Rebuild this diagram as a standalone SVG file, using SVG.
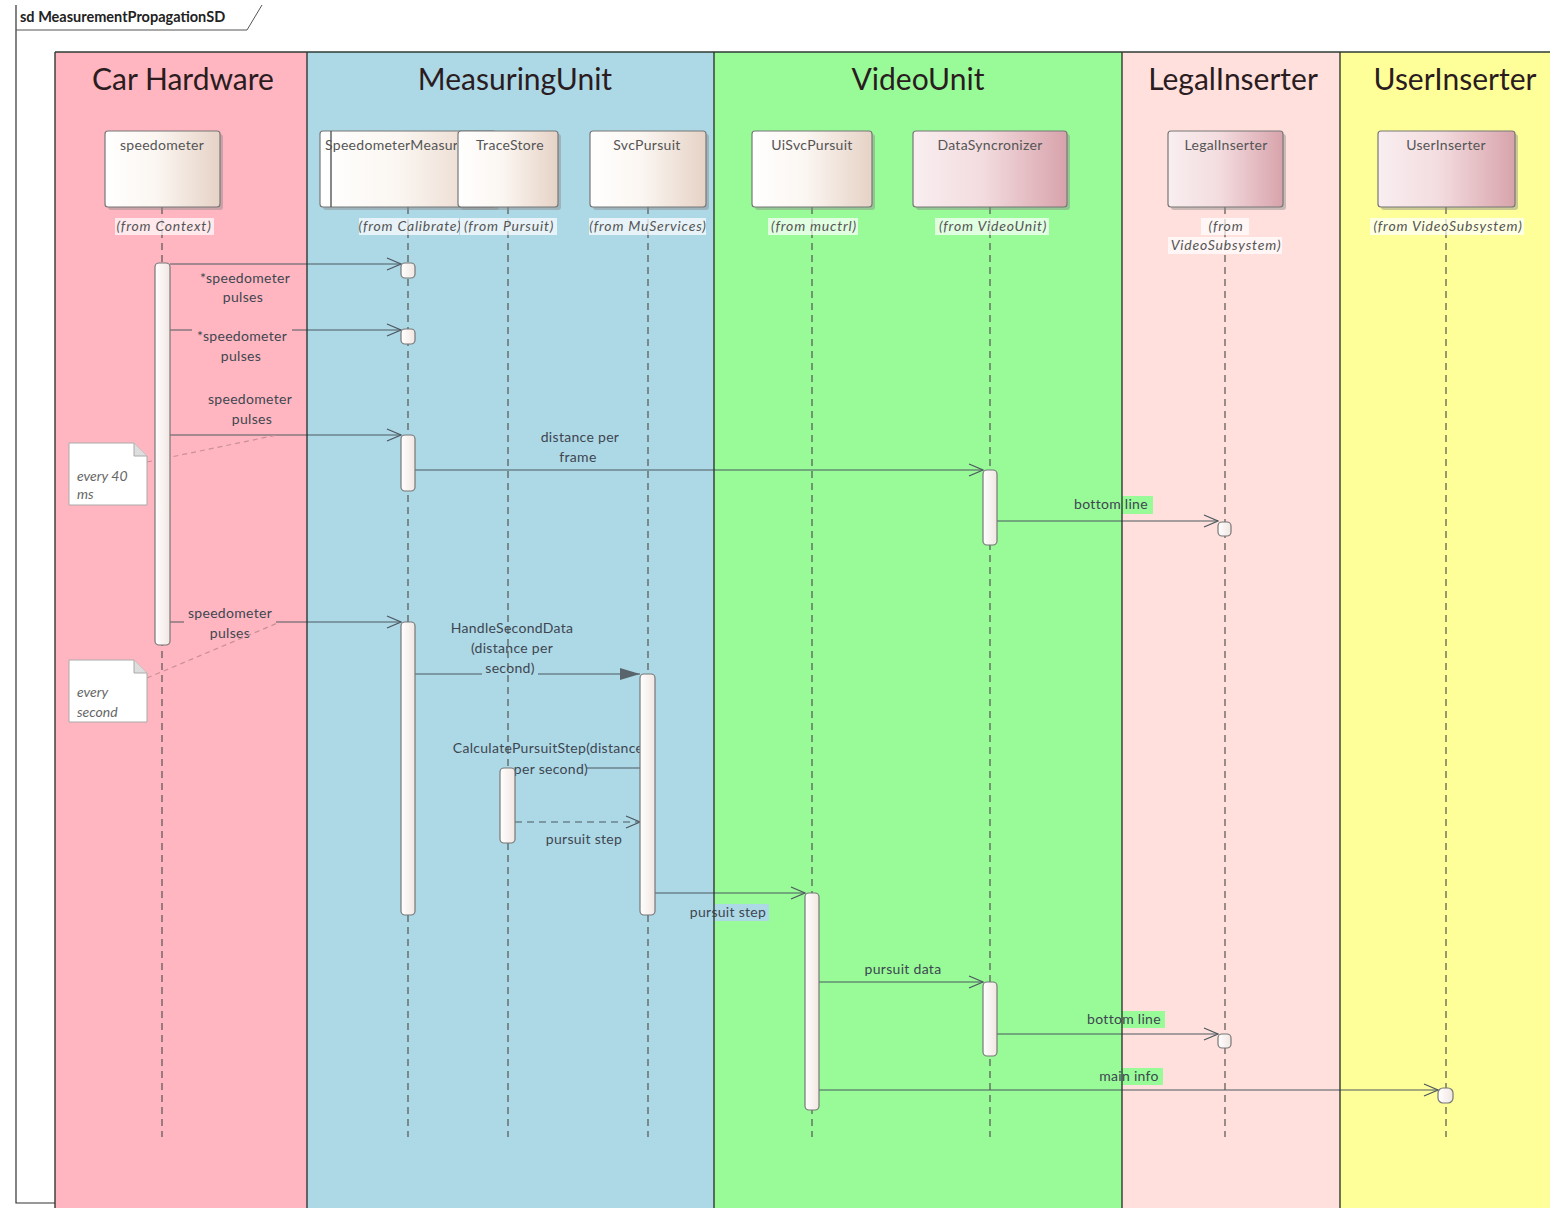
<svg xmlns="http://www.w3.org/2000/svg" width="1550" height="1208" viewBox="0 0 1550 1208">
  <style>
    .lane-title { font-family: Lato, "Liberation Sans", sans-serif; font-size: 30px; fill: #2a1c20; text-anchor: middle; }
    .head-name { font-family: Lato, "Liberation Sans", sans-serif; font-size: 14px; letter-spacing: 0.3px; fill: #555; text-anchor: middle; }
    .from { font-family: Lato, "Liberation Sans", sans-serif; font-size: 14px; letter-spacing: 0.8px; font-style: italic; fill: #555; text-anchor: middle; }
    .msg { font-family: Lato, "Liberation Sans", sans-serif; font-size: 14px; letter-spacing: 0.3px; fill: #3e4650; text-anchor: middle; }
    .note-text { font-family: Lato, "Liberation Sans", sans-serif; font-size: 14px; font-style: italic; fill: #666; }
    .frame-title { font-family: Lato, "Liberation Sans", sans-serif; font-size: 14.5px; font-weight: bold; fill: #222; }
    .lifeline { stroke: #555; stroke-width: 1.2; stroke-dasharray: 7 5; fill: none; }
    .line { stroke: #4d5860; stroke-width: 1.2; fill: none; }
    .ret { stroke: #4d5860; stroke-width: 1.2; fill: none; stroke-dasharray: 7 5; }
    .act { fill: url(#actFill); stroke: #777; stroke-width: 1.2; }
    .head-shadow { fill: #8a8a8a; opacity: 0.45; }
    .head-box { stroke: #777; stroke-width: 1.2; }
    .lane-border { stroke: #2e3a33; stroke-width: 1.4; }
    .note { fill: #fff; stroke: #aaa; stroke-width: 1; }
    .note-link { stroke: #c9909a; stroke-width: 1.2; stroke-dasharray: 5 4; fill: none; }
    .bg-pink { fill: #FFB6C1; }
    .bg-blue { fill: #ADD8E6; }
    .bg-green { fill: #98FB98; }
    .from-bg { fill: #fff; opacity: 0.7; }
  </style>
  <defs>
    <linearGradient id="warm" x1="0" y1="0" x2="1" y2="0">
      <stop offset="0" stop-color="#ffffff"/>
      <stop offset="0.45" stop-color="#fbf6f1"/>
      <stop offset="1" stop-color="#e6d2c6"/>
    </linearGradient>
    <linearGradient id="rose" x1="0" y1="0" x2="1" y2="0">
      <stop offset="0" stop-color="#f9eef0"/>
      <stop offset="0.45" stop-color="#f3dcdf"/>
      <stop offset="1" stop-color="#d8a3ab"/>
    </linearGradient>
    <linearGradient id="actFill" x1="0" y1="0" x2="1" y2="0">
      <stop offset="0" stop-color="#ffffff"/>
      <stop offset="1" stop-color="#f1e6e2"/>
    </linearGradient>
    <marker id="open" viewBox="0 0 16 14" refX="15" refY="7" markerWidth="16" markerHeight="14" markerUnits="userSpaceOnUse" orient="auto">
      <path d="M1,1 L15,7 L1,13" fill="none" stroke="#4d5860" stroke-width="1.3"/>
    </marker>
    <marker id="filled" viewBox="0 0 20 12" refX="20" refY="6" markerWidth="20" markerHeight="12" markerUnits="userSpaceOnUse" orient="auto">
      <path d="M0,0 L20,6 L0,12 Z" fill="#5a646c"/>
    </marker>
    <clipPath id="smClip"><rect x="321" y="131" width="136" height="76"/></clipPath>
  </defs>

  <rect x="0" y="0" width="1550" height="1208" fill="#fff"/>

  <!-- diagram frame with its name tab -->
  <g id="frame">
    <path d="M16,5 L16,1203 L55,1203" fill="none" stroke="#333" stroke-width="1.2"/>
    <path d="M16,30 L247,30 L262,5" fill="none" stroke="#555" stroke-width="1"/>
    <text class="frame-title" x="20" y="22">sd MeasurementPropagationSD</text>
  </g>

  <!-- partition fills -->
  <g id="lanes">
    <rect x="55" y="52" width="252" height="1156" fill="#FFB6C1"/>
    <rect x="307" y="52" width="407" height="1156" fill="#ADD8E6"/>
    <rect x="714" y="52" width="408" height="1156" fill="#98FB98"/>
    <rect x="1122" y="52" width="218" height="1156" fill="#FFE0DC"/>
    <rect x="1340" y="52" width="210" height="1156" fill="#FFFF99"/>
    <text class="lane-title" x="183" y="90">Car Hardware</text>
    <text class="lane-title" x="515" y="90">MeasuringUnit</text>
    <text class="lane-title" x="918" y="90">VideoUnit</text>
    <text class="lane-title" x="1233" y="90">LegalInserter</text>
    <text class="lane-title" x="1455" y="90">UserInserter</text>
  </g>

  <!-- messages -->
  <g id="connectors">
    <line class="line" x1="170" y1="264" x2="401" y2="264" marker-end="url(#open)"/>
    <line class="line" x1="170" y1="330" x2="401" y2="330" marker-end="url(#open)"/>
    <line class="line" x1="170" y1="435" x2="401" y2="435" marker-end="url(#open)"/>
    <line class="line" x1="415" y1="470" x2="983" y2="470" marker-end="url(#open)"/>
    <line class="line" x1="997" y1="521" x2="1218" y2="521" marker-end="url(#open)"/>
    <line class="line" x1="170" y1="622" x2="401" y2="622" marker-end="url(#open)"/>
    <line class="line" x1="415" y1="674" x2="640" y2="674" marker-end="url(#filled)"/>
    <line class="line" x1="640" y1="768" x2="515" y2="768" marker-end="url(#filled)"/>
    <line class="ret" x1="515" y1="822" x2="640" y2="822" marker-end="url(#open)"/>
    <line class="line" x1="655" y1="893" x2="805" y2="893" marker-end="url(#open)"/>
    <line class="line" x1="819" y1="982" x2="983" y2="982" marker-end="url(#open)"/>
    <line class="line" x1="997" y1="1034" x2="1218" y2="1034" marker-end="url(#open)"/>
    <line class="line" x1="819" y1="1090" x2="1438" y2="1090" marker-end="url(#open)"/>

    <!-- label backgrounds -->
    <rect class="bg-pink" x="196" y="270" width="98" height="17"/>
    <rect class="bg-pink" x="221" y="289" width="45" height="17"/>
    <rect class="bg-pink" x="192" y="328" width="100" height="17"/>
    <rect class="bg-pink" x="218" y="348" width="46" height="17"/>
    <rect class="bg-pink" x="205" y="391" width="91" height="17"/>
    <rect class="bg-pink" x="229" y="411" width="46" height="17"/>
    <rect class="bg-blue" x="538" y="429" width="85" height="17"/>
    <rect class="bg-blue" x="557" y="449" width="43" height="17"/>
    <rect class="bg-green" x="1069" y="496" width="84" height="18"/>
    <rect class="bg-pink" x="184" y="605" width="92" height="18"/>
    <rect class="bg-pink" x="207" y="625" width="46" height="17"/>
    <rect class="bg-blue" x="449" y="620" width="127" height="17"/>
    <rect class="bg-blue" x="467" y="640" width="90" height="17"/>
    <rect class="bg-blue" x="482" y="660" width="56" height="18"/>
    <rect class="bg-blue" x="450" y="740" width="197" height="17"/>
    <rect class="bg-blue" x="515" y="761" width="72" height="18"/>
    <rect class="bg-blue" x="543" y="831" width="82" height="17"/>
    <rect class="bg-blue" x="687" y="904" width="82" height="17"/>
    <rect class="bg-green" x="861" y="961" width="84" height="17"/>
    <rect class="bg-green" x="1083" y="1011" width="82" height="17"/>
    <rect class="bg-green" x="1095" y="1068" width="68" height="17"/>

    <!-- label texts -->
    <text class="msg" x="245" y="283">*speedometer</text>
    <text class="msg" x="243" y="302">pulses</text>
    <text class="msg" x="242" y="341">*speedometer</text>
    <text class="msg" x="241" y="361">pulses</text>
    <text class="msg" x="250" y="404">speedometer</text>
    <text class="msg" x="252" y="424">pulses</text>
    <text class="msg" x="580" y="442">distance per</text>
    <text class="msg" x="578" y="462">frame</text>
    <text class="msg" x="1111" y="509">bottom line</text>
    <text class="msg" x="230" y="618">speedometer</text>
    <text class="msg" x="230" y="638">pulses</text>
    <text class="msg" x="512" y="633">HandleSecondData</text>
    <text class="msg" x="512" y="653">(distance per</text>
    <text class="msg" x="510" y="673">second)</text>
    <text class="msg" x="548" y="753">CalculatePursuitStep(distance</text>
    <text class="msg" x="551" y="774">per second)</text>
    <text class="msg" x="584" y="844">pursuit step</text>
    <text class="msg" x="728" y="917">pursuit step</text>
    <text class="msg" x="903" y="974">pursuit data</text>
    <text class="msg" x="1124" y="1024">bottom line</text>
    <text class="msg" x="1129" y="1081">main info</text>

    <!-- note attachments -->
    <line class="note-link" x1="147" y1="462" x2="277" y2="435"/>
    <line class="note-link" x1="147" y1="678" x2="280" y2="622"/>
  </g>

  <!-- partition borders -->
  <g id="lane-borders">
    <line class="lane-border" x1="55" y1="52" x2="1550" y2="52"/>
    <line class="lane-border" x1="55" y1="52" x2="55" y2="1208"/>
    <line class="lane-border" x1="307" y1="52" x2="307" y2="1208"/>
    <line class="lane-border" x1="714" y1="52" x2="714" y2="1208"/>
    <line class="lane-border" x1="1122" y1="52" x2="1122" y2="1208"/>
    <line class="lane-border" x1="1340" y1="52" x2="1340" y2="1208"/>
  </g>

  <!-- notes -->
  <g id="note-40ms">
    <path class="note" d="M69,443 L134,443 L147,456 L147,505 L69,505 Z"/>
    <path d="M134,443 L134,456 L147,456" fill="#ddd" stroke="#aaa" stroke-width="1"/>
    <text class="note-text" x="77" y="481">every 40</text>
    <text class="note-text" x="77" y="499">ms</text>
  </g>
  <g id="note-second">
    <path class="note" d="M69,660 L134,660 L147,673 L147,722 L69,722 Z"/>
    <path d="M134,660 L134,673 L147,673" fill="#ddd" stroke="#aaa" stroke-width="1"/>
    <text class="note-text" x="77" y="697">every</text>
    <text class="note-text" x="77" y="717">second</text>
  </g>

  <!-- lifelines -->
  <g id="speedometer">
    <line class="lifeline" x1="162" y1="207" x2="162" y2="1137"/>
    <rect class="head-shadow" x="108" y="134" width="115" height="76" rx="3"/>
    <rect class="head-box" x="105" y="131" width="115" height="76" rx="3" fill="url(#warm)"/>
    <text class="head-name" x="162" y="150">speedometer</text>
    <rect class="from-bg" x="115" y="218" width="99" height="17"/>
    <text class="from" x="164" y="231">(from Context)</text>
    <rect class="act" x="155" y="263" width="15" height="382" rx="4"/>
  </g>

  <g id="SpeedometerMeasurer">
    <line class="lifeline" x1="408" y1="207" x2="408" y2="1137"/>
    <rect class="head-shadow" x="323" y="134" width="176" height="76" rx="3"/>
    <rect class="head-box" x="320" y="131" width="176" height="76" rx="3" fill="url(#warm)"/>
    <line x1="331" y1="131" x2="331" y2="207" stroke="#555" stroke-width="1.4"/>
    <text class="head-name" x="325" y="150" clip-path="url(#smClip)" style="text-anchor:start">SpeedometerMeasurer</text>
    <rect class="from-bg" x="359" y="218" width="100" height="17"/>
    <text class="from" x="410" y="231">(from Calibrate)</text>
    <rect class="act" x="401" y="263" width="14" height="15" rx="4"/>
    <rect class="act" x="401" y="329" width="14" height="15" rx="4"/>
    <rect class="act" x="401" y="435" width="14" height="56" rx="4"/>
    <rect class="act" x="401" y="622" width="14" height="293" rx="4"/>
  </g>

  <g id="TraceStore">
    <line class="lifeline" x1="508" y1="207" x2="508" y2="1137"/>
    <rect class="head-shadow" x="461" y="134" width="100" height="76" rx="3"/>
    <rect class="head-box" x="458" y="131" width="100" height="76" rx="3" fill="url(#warm)"/>
    <text class="head-name" x="510" y="150">TraceStore</text>
    <rect class="from-bg" x="460" y="218" width="97" height="17"/>
    <text class="from" x="509" y="231">(from Pursuit)</text>
    <rect class="act" x="500" y="768" width="15" height="75" rx="4"/>
  </g>

  <g id="SvcPursuit">
    <line class="lifeline" x1="648" y1="207" x2="648" y2="1137"/>
    <rect class="head-shadow" x="593" y="134" width="116" height="76" rx="3"/>
    <rect class="head-box" x="590" y="131" width="116" height="76" rx="3" fill="url(#warm)"/>
    <text class="head-name" x="647" y="150">SvcPursuit</text>
    <rect class="from-bg" x="589" y="218" width="117" height="17"/>
    <text class="from" x="648" y="231">(from MuServices)</text>
    <rect class="act" x="640" y="674" width="15" height="241" rx="4"/>
  </g>

  <g id="UiSvcPursuit">
    <line class="lifeline" x1="812" y1="207" x2="812" y2="1137"/>
    <rect class="head-shadow" x="755" y="134" width="120" height="76" rx="3"/>
    <rect class="head-box" x="752" y="131" width="120" height="76" rx="3" fill="url(#warm)"/>
    <text class="head-name" x="812" y="150">UiSvcPursuit</text>
    <rect class="from-bg" x="768" y="218" width="90" height="17"/>
    <text class="from" x="814" y="231">(from muctrl)</text>
    <rect class="act" x="805" y="893" width="14" height="217" rx="4"/>
  </g>

  <g id="DataSyncronizer">
    <line class="lifeline" x1="990" y1="207" x2="990" y2="1137"/>
    <rect class="head-shadow" x="916" y="134" width="154" height="76" rx="3"/>
    <rect class="head-box" x="913" y="131" width="154" height="76" rx="3" fill="url(#rose)"/>
    <text class="head-name" x="990" y="150">DataSyncronizer</text>
    <rect class="from-bg" x="935" y="218" width="114" height="17"/>
    <text class="from" x="993" y="231">(from VideoUnit)</text>
    <rect class="act" x="983" y="470" width="14" height="75" rx="4"/>
    <rect class="act" x="983" y="982" width="14" height="74" rx="4"/>
  </g>

  <g id="LegalInserter">
    <line class="lifeline" x1="1225" y1="207" x2="1225" y2="1137"/>
    <rect class="head-shadow" x="1171" y="134" width="115" height="76" rx="3"/>
    <rect class="head-box" x="1168" y="131" width="115" height="76" rx="3" fill="url(#rose)"/>
    <text class="head-name" x="1226" y="150">LegalInserter</text>
    <rect class="from-bg" x="1201" y="218" width="48" height="17"/>
    <text class="from" x="1226" y="231">(from</text>
    <rect class="from-bg" x="1168" y="237" width="114" height="17"/>
    <text class="from" x="1226" y="250">VideoSubsystem)</text>
    <rect class="act" x="1218" y="522" width="13" height="14" rx="4"/>
    <rect class="act" x="1218" y="1034" width="13" height="14" rx="4"/>
  </g>

  <g id="UserInserter">
    <line class="lifeline" x1="1446" y1="207" x2="1446" y2="1137"/>
    <rect class="head-shadow" x="1381" y="134" width="137" height="76" rx="3"/>
    <rect class="head-box" x="1378" y="131" width="137" height="76" rx="3" fill="url(#rose)"/>
    <text class="head-name" x="1446" y="150">UserInserter</text>
    <rect class="from-bg" x="1370" y="218" width="154" height="17"/>
    <text class="from" x="1448" y="231">(from VideoSubsystem)</text>
    <rect class="act" x="1438" y="1088" width="15" height="15" rx="5"/>
  </g>
</svg>
